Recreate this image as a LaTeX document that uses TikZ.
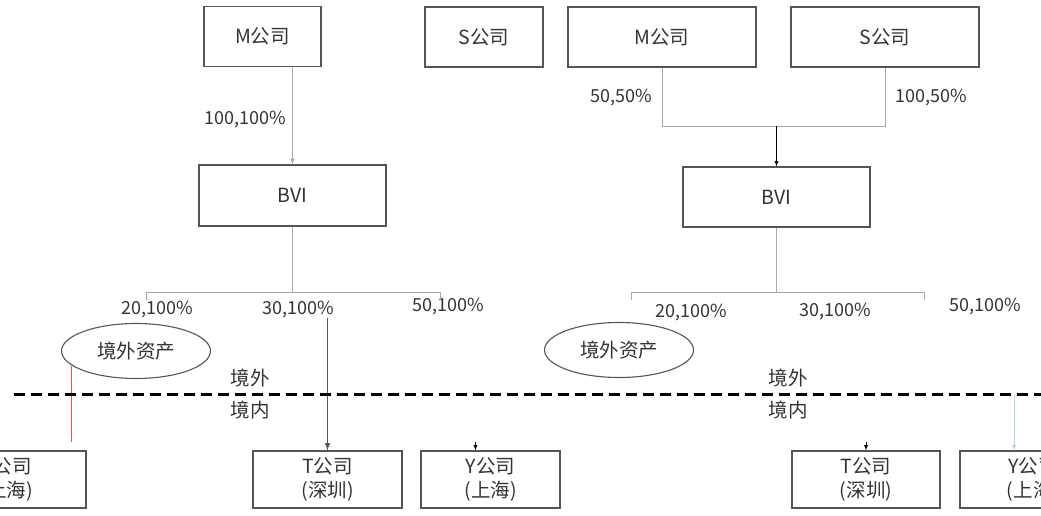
\documentclass[tikz,border=0pt]{standalone}
\usepackage{fontspec}
\setmainfont{Noto Sans CJK SC}
\usetikzlibrary{calc,shapes.geometric}

\definecolor{boxgray}{HTML}{555555}
\definecolor{linkgray}{HTML}{A8A8A8}
\definecolor{txtgray}{HTML}{333333}
\definecolor{redline}{HTML}{E85050}
\definecolor{cyanline}{HTML}{9FD8E0}

\tikzset{
    company/.style={draw=boxgray, line width=1.2pt, text=txtgray, align=center, inner sep=0pt, minimum height=60pt, font=\fontsize{19.5}{24}\selectfont},
    share/.style={text=txtgray, inner sep=0pt, font=\fontsize{18}{21}\selectfont},
    region/.style={text=txtgray, inner sep=0pt, font=\fontsize{19.5}{23}\selectfont},
    assets/.style={draw=boxgray, line width=1.1pt, ellipse, minimum width=149pt, minimum height=55pt, text=txtgray, font=\fontsize{19.5}{23}\selectfont},
    link/.style={draw=linkgray, line width=1pt},
}

\begin{document}
\begin{tikzpicture}[x=1pt,y=-1pt]
    \useasboundingbox (0,0) rectangle (1041,515);
    \clip (0,0) rectangle (1041,515);
    % left structure
    \node[company, minimum width=117pt] at (262.5,36.5) (M1) {M公司};
    \node[company, minimum width=118pt] at (484,37) (S1) {S公司};
    \node[company, minimum width=187pt, minimum height=61pt] at (292.5,195.5) (B1) {BVI};
    \node[company, minimum width=158pt, minimum height=57pt] at (7,479.5) (X1) {Y公司\\(上海)};
    \node[company, minimum width=149pt, minimum height=57pt] at (327.5,479.5) (T1) {T公司\\(深圳)};
    \node[company, minimum width=139pt, minimum height=57pt] at (490.5,479.5) (Y1) {Y公司\\(上海)};
    % right structure
    \node[company, minimum width=188pt] at (662,37) (M2) {M公司};
    \node[company, minimum width=188pt] at (885,37) (S2) {S公司};
    \node[company, minimum width=187pt] at (776.5,197) (B2) {BVI};
    \node[company, minimum width=148pt, minimum height=57pt] at (866,479.5) (T2) {T公司\\(深圳)};
    \node[company, minimum width=146pt, minimum height=57pt] at (1033,479.5) (Y2) {Y公司\\(上海)};
    % offshore assets
    \node[assets] at (136,351) (E1) {境外资产};
    \node[assets] at (619,350) (E2) {境外资产};
    \node[region] at (250,378) (W1) {境外};
    \node[region] at (250,410) (N1) {境内};
    \node[region] at (788,378) (W2) {境外};
    \node[region] at (788,410) (N2) {境内};
    % share labels
    \node[share] at (157,309) (L1a) {20,100\%};
    \node[share] at (298,309) (L1b) {30,100\%};
    \node[share] at (448,306) (L1c) {50,100\%};
    \node[share] at (691,312) (L2a) {20,100\%};
    \node[share] at (835,311) (L2b) {30,100\%};
    \node[share] at (985,306) (L2c) {50,100\%};
    \node[share, anchor=east] at (652,97) (P1) {50,50\%};
    \node[share, anchor=west] at (895,97) (P2) {100,50\%};
    % coordinates
    \coordinate (J2) at ($(B2.north)+(0,-40)$);
    \coordinate (H1) at ($(B1.south)+(0,66)$);
    \coordinate (H1a) at (146,300);
    \coordinate (H1b) at (440,300);
    \coordinate (H2) at ($(B2.south)+(0,65)$);
    \coordinate (H2a) at (631,300);
    \coordinate (H2b) at (924,300);
    \coordinate (D1) at (14,394);
    \coordinate (D2) at (1041,394);
    \coordinate (R1) at (71,366);
    \coordinate (R2) at (71,442);
    \coordinate (Y1in) at ($(Y1.north)+(-15,-8)$);
    \coordinate (T2in) at ($(T2.north)+(0,-8)$);
    \coordinate (Y2in) at ($(Y2.north)+(-19,-55)$);
    % connectors
    \draw[link, -latex] (M1.south -| B1.north) -- (B1.north) node [midway,left,share,xshift=-6pt,yshift=-4pt] {100,100\%};
    \draw[link] (M2.south) |- (J2) -| (S2.south);
    \draw[draw=black, line width=0.8pt, -latex] (J2) -- (B2.north);
    \draw[link] (B1.south) -- (H1);
    \draw[link] (H1a) -- (H1a |- H1) -- (H1b |- H1) -- (H1b);
    \draw[link] (B2.south) -- (H2);
    \draw[link] (H2a) -- (H2a |- H2) -- (H2b |- H2) -- (H2b);
    \draw[draw=boxgray, line width=1.5pt, -latex] (T1.north |- L1b.south) -- (T1.north);
    \draw[draw=black, line width=0.8pt, -latex] (Y1in) -- (Y1in |- Y1.north);
    \draw[draw=black, line width=0.8pt, -latex] (T2in) -- (T2.north);
    \draw[draw=cyanline, line width=0.8pt, -latex] (Y2in) -- (Y2in |- Y2.north);
    \draw[draw=redline, line width=0.8pt] (R1) -- (R2);
    \draw[draw=black, line width=3pt, dash pattern=on 11pt off 6pt] (D1) -- (D2);
\end{tikzpicture}
\end{document}
